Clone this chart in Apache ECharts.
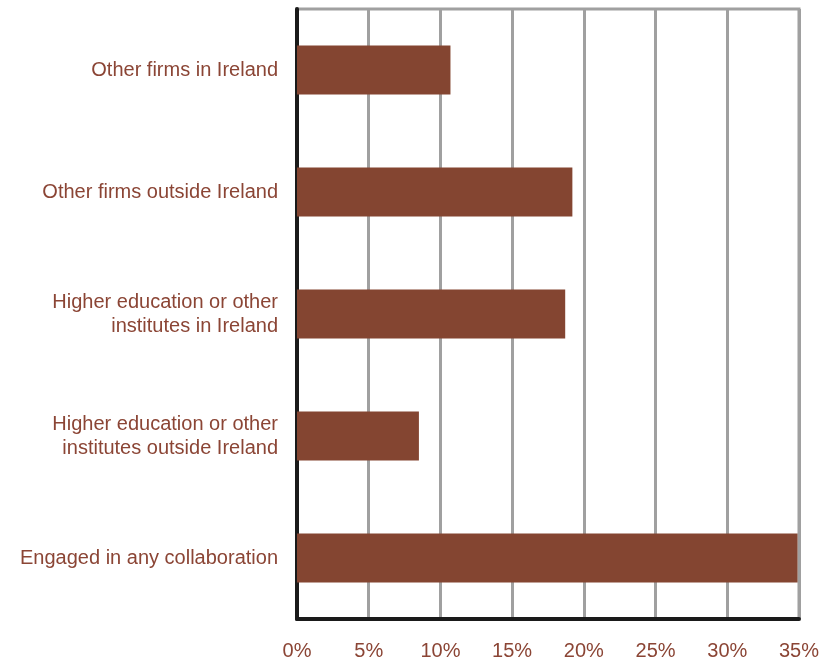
<!DOCTYPE html>
<html>
<head>
<meta charset="utf-8">
<script src="https://cdn.jsdelivr.net/npm/echarts@6/dist/echarts.min.js"></script>
<style>
html,body{margin:0;padding:0;background:#fff;}
#chart{width:822px;height:666px;}
</style>
</head>
<body>
<div id="chart"></div>
<script>
const categories = [
  "Other firms in Ireland",
  "Other firms outside Ireland",
  "Higher education or other\ninstitutes in Ireland",
  "Higher education or other\ninstitutes outside Ireland",
  "Engaged in any collaboration"
];
const values = [10.7, 19.2, 18.7, 8.5, 34.9];
const xTicks = [0, 5, 10, 15, 20, 25, 30, 35];

const textColor = '#8B4535';
const chart = echarts.init(document.getElementById('chart'));
chart.setOption({
  animation: false,
  backgroundColor: '#fff',
  grid: {
    left: 297, right: 18, top: 9, bottom: 47,
    show: true, borderColor: '#a0a0a0', borderWidth: 3
  },
  xAxis: {
    type: 'value',
    min: xTicks[0], max: xTicks[xTicks.length - 1], interval: 5,
    axisLine: { show: true, lineStyle: { color: '#1a1a1a', width: 4 } },
    axisTick: { show: false },
    splitLine: { show: true, lineStyle: { color: '#a0a0a0', width: 3 } },
    axisLabel: {
      formatter: v => v + '%',
      color: textColor, fontFamily: 'Liberation Sans, Arial, sans-serif',
      fontSize: 20, margin: 22
    }
  },
  yAxis: {
    type: 'category',
    inverse: true,
    data: categories,
    axisLine: { show: true, lineStyle: { color: '#1a1a1a', width: 4 } },
    axisTick: { show: false },
    splitLine: { show: false },
    axisLabel: {
      color: textColor, fontFamily: 'Liberation Sans, Arial, sans-serif',
      fontSize: 20, margin: 19, lineHeight: 24, align: 'right'
    }
  },
  series: [{
    type: 'bar',
    data: values,
    barWidth: '40%',
    itemStyle: { color: '#844531' }
  }]
});
</script>
</body>
</html>
